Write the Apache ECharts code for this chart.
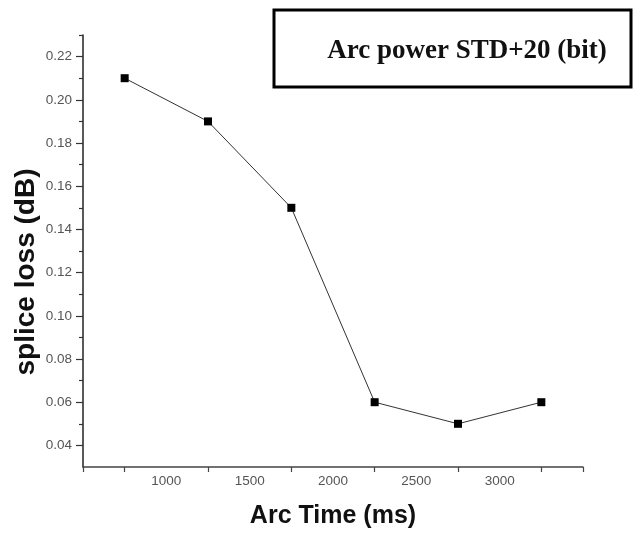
<!DOCTYPE html>
<html>
<head>
<meta charset="utf-8">
<script src="https://cdn.jsdelivr.net/npm/echarts@6/dist/echarts.min.js"></script>
<style>
  html, body { margin: 0; padding: 0; background: #fff; }
  #chart { width: 635px; height: 536px; }
</style>
</head>
<body>
<div id="chart"></div>
<script>
// data
const arcTime    = [750, 1250, 1750, 2250, 2750, 3250];
const spliceLoss = [0.21, 0.19, 0.15, 0.06, 0.05, 0.06];

// axis ticks / labels
const xLabelVals  = [1000, 1500, 2000, 2500, 3000];
const xTickVals   = [500, 750, 1250, 1750, 2250, 2750, 3250, 3500];
const yLabelVals  = [0.04, 0.06, 0.08, 0.10, 0.12, 0.14, 0.16, 0.18, 0.20, 0.22];
const yMinorVals  = [0.05, 0.07, 0.09, 0.11, 0.13, 0.15, 0.17, 0.19, 0.21, 0.23];

const legendText = 'Arc power STD+20 (bit)';

const chart = echarts.init(document.getElementById('chart'), null, { renderer: 'canvas' });

const tickLabel = { color: '#555', fontSize: 13.5, fontFamily: 'Liberation Sans, Arial, sans-serif' };

chart.setOption({
  backgroundColor: '#fff',
  animation: false,
  grid: { left: 83, top: 35, right: 52, bottom: 69, containLabel: false, outerBoundsMode: 'none' },
  xAxis: {
    type: 'value',
    min: 500,
    max: 3500,
    name: 'Arc Time (ms)',
    nameLocation: 'middle',
    nameGap: 37,
    nameMoveOverlap: false,
    nameTextStyle: { color: '#111', fontSize: 25, fontWeight: 'bold', fontFamily: 'Liberation Sans, Arial, sans-serif' },
    axisLine: { lineStyle: { color: '#444', width: 1.5 } },
    axisTick: { show: true, inside: false, length: 5, customValues: xTickVals, lineStyle: { color: '#444', width: 1.2 } },
    axisLabel: { ...tickLabel, margin: 7, customValues: xLabelVals, formatter: v => String(v) },
    splitLine: { show: false },
  },
  yAxis: [{
    type: 'value',
    min: 0.03,
    max: 0.23,
    name: 'splice loss (dB)',
    nameLocation: 'middle',
    nameGap: 43,
    nameMoveOverlap: false,
    nameTextStyle: {
      color: '#111', fontSize: 28, fontWeight: 'bold',
      fontFamily: 'Liberation Sans, Arial, sans-serif',
      padding: [0, 42, 0, 0],
    },
    axisLine: { show: true, lineStyle: { color: '#222', width: 1.5 } },
    axisTick: { show: true, inside: false, length: 7, customValues: yLabelVals, lineStyle: { color: '#333', width: 1.2 } },
    axisLabel: { ...tickLabel, margin: 11, customValues: yLabelVals, formatter: v => v.toFixed(2) },
    splitLine: { show: false },
  }, {
    // minor ticks only
    type: 'value',
    position: 'left',
    min: 0.03,
    max: 0.23,
    axisLine: { show: false },
    axisTick: { show: true, inside: false, length: 4, customValues: yMinorVals, lineStyle: { color: '#333', width: 1.2 } },
    axisLabel: { show: false },
    splitLine: { show: false },
  }],
  graphic: [
    { type: 'rect', shape: { x: 274, y: 10, width: 357, height: 77 },
      style: { fill: '#fff', stroke: '#000', lineWidth: 3 } },
    { type: 'text', x: 467, y: 51,
      style: { text: legendText, fill: '#111', font: 'bold 27px "Liberation Serif", "Times New Roman", serif',
               textAlign: 'center', textVerticalAlign: 'middle' } },
  ],
  series: [{
    type: 'line',
    data: arcTime.map((t, i) => [t, spliceLoss[i]]),
    symbol: 'rect',
    symbolSize: 8,
    itemStyle: { color: '#000' },
    lineStyle: { color: '#333', width: 1 },
  }],
});
</script>
</body>
</html>
